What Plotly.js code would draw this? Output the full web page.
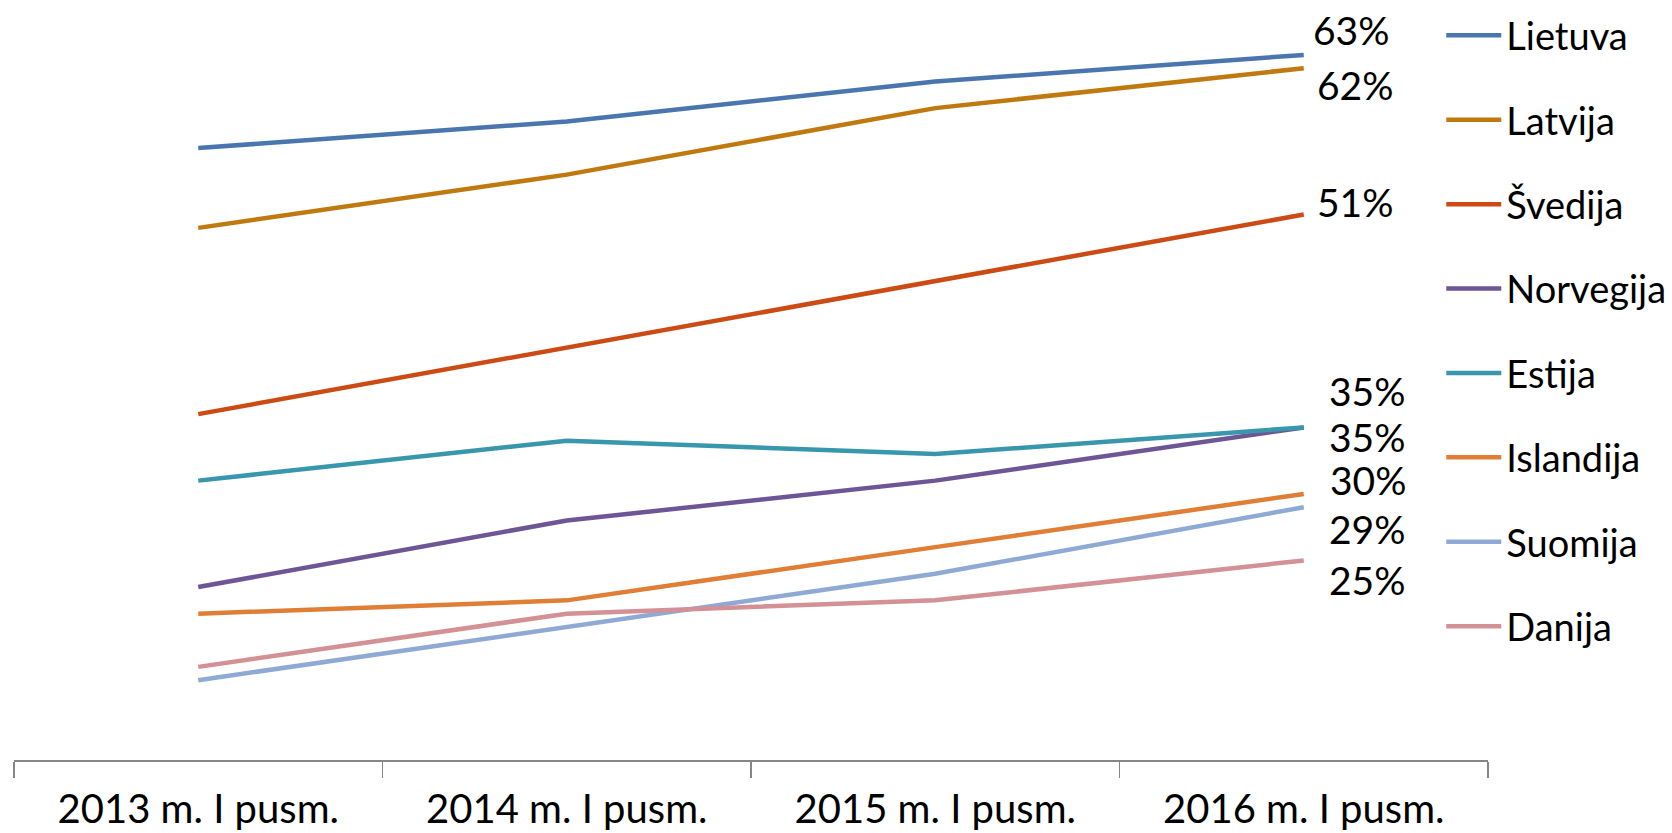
<!DOCTYPE html>
<html>
<head>
<meta charset="utf-8">
<script src="https://cdn.plot.ly/plotly-3.0.1.min.js"></script>
<style>html,body{margin:0;padding:0;background:#fff;}#chart{width:1672px;height:833px;}</style>
</head>
<body>
<div id="chart"></div>
<script>
const categories = ["2013 m. I pusm.", "2014 m. I pusm.", "2015 m. I pusm.", "2016 m. I pusm."];
const countries = ["Lietuva", "Latvija", "Švedija", "Norvegija", "Estija", "Islandija", "Suomija", "Danija"];
const lietuva   = [56, 58, 61, 63];
const latvija   = [50, 54, 59, 62];
const svedija   = [36, 41, 46, 51];
const norvegija = [23, 28, 31, 35];
const estija    = [31, 34, 33, 35];
const islandija = [21, 22, 26, 30];
const suomija   = [16, 20, 24, 29];
const danija    = [17, 21, 22, 25];
const seriesValues = [lietuva, latvija, svedija, norvegija, estija, islandija, suomija, danija];

const colors = ["#4A76B0", "#C0790F", "#CC4A14", "#6E5596", "#3896AD", "#E07E35", "#8EAAD4", "#D39095"];
// label offsets (px) for the end-of-line value labels
const labelShift = [[48, 25], [52, -17], [52, 13], [64, 36], [64, -10], [65, 14], [64, -22], [64, -20]];

const FONT = "Lato, 'Open Sans', sans-serif";

const traces = countries.map((name, i) => ({
  type: "scatter",
  mode: "lines",
  name: name,
  legendgroup: "g" + i,
  x: categories,
  y: seriesValues[i],
  line: {color: colors[i], width: 4.5},
  hoverinfo: "name+y"
}));

const annotations = countries.map((name, i) => {
  const vals = seriesValues[i];
  return {
    x: categories[categories.length - 1],
    y: vals[vals.length - 1],
    xref: "x", yref: "y",
    text: vals[vals.length - 1] + "%",
    showarrow: false,
    xanchor: "center", yanchor: "middle",
    xshift: labelShift[i][0],
    yshift: labelShift[i][1],
    font: {family: FONT, size: 39, color: "#000"}
  };
});

const layout = {
  width: 1672, height: 833,
  paper_bgcolor: "#fff", plot_bgcolor: "#fff",
  margin: {l: 14, r: 184, t: 15, b: 73, autoexpand: false},
  showlegend: true,
  legend: {
    xref: "container", yref: "container",
    x: 0.862, y: 0.995, xanchor: "left", yanchor: "top",
    font: {family: FONT, size: 38, color: "#000"},
    bgcolor: "rgba(0,0,0,0)",
    tracegroupgap: 32,
    itemwidth: 55,
    maxheight: 830
  },
  xaxis: {
    type: "category",
    range: [-0.5, 3.5],
    showgrid: false, zeroline: false,
    showline: true, linecolor: "#868686", linewidth: 2,
    ticks: "outside", tickson: "boundaries", ticklen: 16, tickcolor: "#868686", tickwidth: 1.5,
    tickfont: {family: FONT, size: 40, color: "#000"},
    ticklabelstandoff: 13
  },
  yaxis: {
    range: [10, 66],
    visible: false,
    showgrid: false, zeroline: false
  },
  annotations: annotations
};

Plotly.newPlot("chart", traces, layout, {displayModeBar: false, staticPlot: true});
</script>
</body>
</html>
